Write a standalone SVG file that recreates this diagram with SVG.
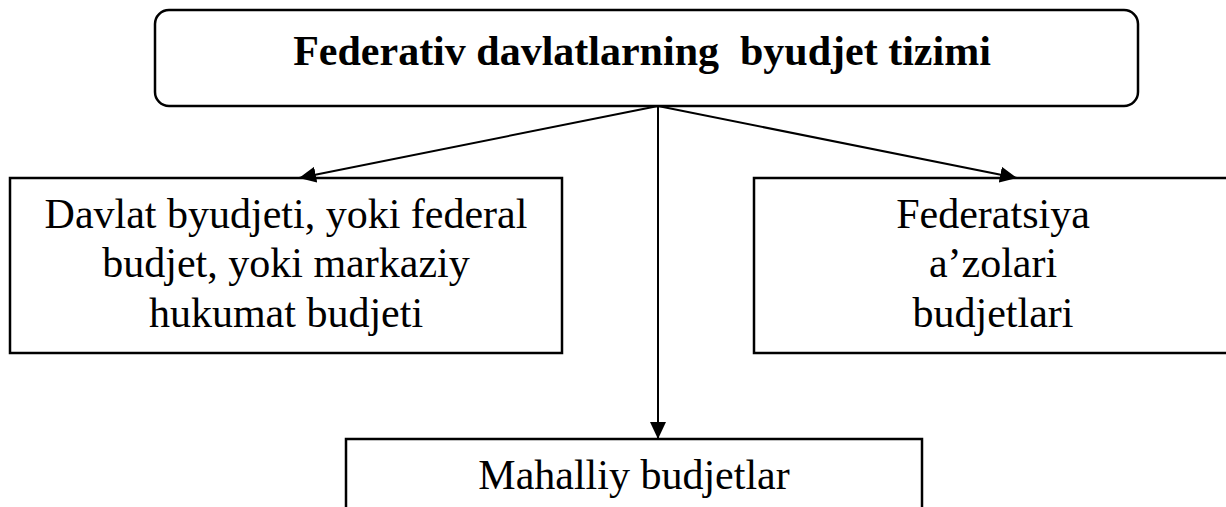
<svg xmlns="http://www.w3.org/2000/svg" width="1226" height="507" viewBox="0 0 1226 507">
  <style>
    .box { fill: #ffffff; stroke: #000000; stroke-width: 2.5; }
    .txt { font-family: "Liberation Serif", "Times New Roman", serif; font-size: 42px; fill: #000000; text-anchor: middle; }
    .title { font-weight: bold; }
    .conn { stroke: #000000; stroke-width: 2; fill: none; }
  </style>
  <defs>
    <marker id="arrow" markerUnits="userSpaceOnUse" markerWidth="17" markerHeight="16" refX="17" refY="8" orient="auto">
      <path d="M0,0 L17,8 L0,16 z" fill="#000000"/>
    </marker>
  </defs>
  <rect width="1226" height="507" fill="#ffffff"/>
  <g id="node-top">
    <rect class="box" x="155" y="10" width="983" height="96" rx="14" ry="14"/>
    <text class="txt title" x="642" y="65" xml:space="preserve">Federativ davlatlarning  byudjet tizimi</text>
  </g>
  <g id="node-left">
    <rect class="box" x="10" y="178" width="552" height="175"/>
    <text class="txt" x="286" y="228">Davlat byudjeti, yoki federal</text>
    <text class="txt" x="286" y="277">budjet, yoki markaziy</text>
    <text class="txt" x="286" y="327">hukumat budjeti</text>
  </g>
  <g id="node-right">
    <rect class="box" x="754" y="178" width="478" height="175"/>
    <text class="txt" x="993" y="228">Federatsiya</text>
    <text class="txt" x="993" y="277">a’zolari</text>
    <text class="txt" x="993" y="327">budjetlari</text>
  </g>
  <g id="node-bottom">
    <rect class="box" x="346" y="439" width="576" height="90"/>
    <text class="txt" x="634" y="489">Mahalliy budjetlar</text>
  </g>
  <g id="connectors">
    <line class="conn" x1="658" y1="106" x2="299" y2="178" marker-end="url(#arrow)"/>
    <line class="conn" x1="658" y1="106" x2="658" y2="439" marker-end="url(#arrow)"/>
    <line class="conn" x1="658" y1="106" x2="1017" y2="178" marker-end="url(#arrow)"/>
  </g>
</svg>
